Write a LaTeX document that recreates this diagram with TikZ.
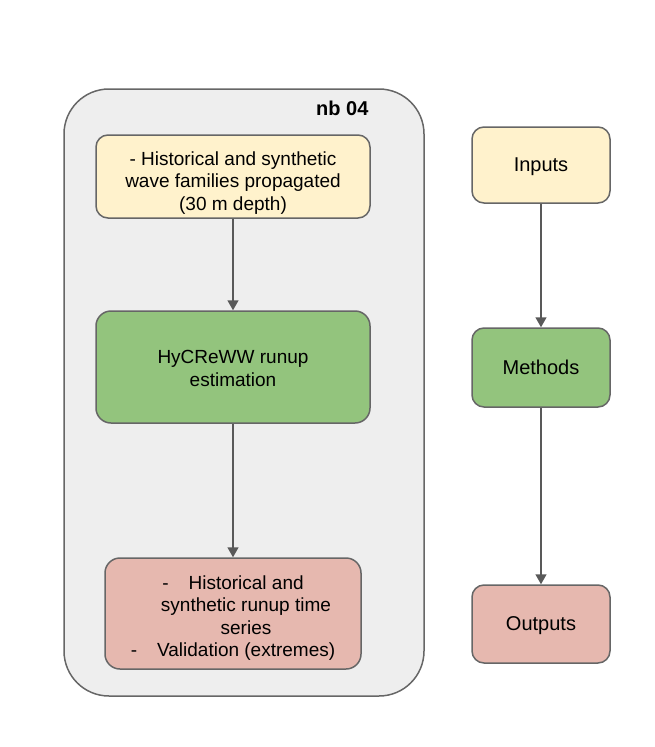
\documentclass[tikz,border=0pt]{standalone}
\usepackage{xcolor}
\usepackage{fontspec}
\setmainfont{Liberation Sans}
\usepackage{tikz}
\usetikzlibrary{arrows.meta}

\definecolor{groupgray}{HTML}{EEEEEE}
\definecolor{edgegray}{HTML}{666666}
\definecolor{arrowgray}{HTML}{595959}
\definecolor{inyellow}{HTML}{FFF2CC}
\definecolor{methgreen}{HTML}{93C47D}
\definecolor{outpink}{HTML}{E6B8AF}

\begin{document}
\begin{tikzpicture}[x=1pt,y=-1pt,
  box/.style={draw=edgegray, line width=1.5pt, rounded corners=12pt, inner sep=0pt,
    align=center, text depth=0pt, font=\fontsize{19}{22.5}\selectfont},
  flow/.style={-{Triangle[width=11pt,length=10pt]}, draw=arrowgray, line width=1.5pt}]
  \useasboundingbox (0,0) rectangle (654,747);

  % Notebook group
  \node[draw=edgegray, line width=1.5pt, fill=groupgray, rounded corners=45pt,
    minimum width=360pt, minimum height=607pt, inner sep=0pt] (nbgroup) at (244,392.5) {};
  \node[anchor=east, font=\fontsize{20}{24}\selectfont\bfseries] (nblabel) at (372,108) {nb 04};

  % Left column
  \node[box, fill=inyellow, minimum width=274pt, minimum height=83pt] (waves) at (233,176.5)
    {\rule{0pt}{22pt}- Historical and synthetic\\wave families propagated\\(30 m depth)};
  \node[box, fill=methgreen, minimum width=274pt, minimum height=112pt, rounded corners=15pt] (runup) at (233,367)
    {\rule{0pt}{16pt}HyCReWW runup\\estimation};
  \node[box, fill=outpink, minimum width=256pt, minimum height=111pt, rounded corners=15pt] (series) at (233,613.5)
    {\rule{0pt}{19pt}-\hspace{20pt}Historical and\\\hspace{26pt}synthetic runup time\\\hspace{26pt}series\\-\hspace{20pt}Validation (extremes)};

  \draw[flow] (waves) -- (runup);
  \draw[flow] (runup) -- (series);

  % Legend
  \node[box, fill=inyellow, minimum width=138pt, minimum height=76pt, font=\fontsize{20}{24}\selectfont] (inputs) at (541,165) {Inputs};
  \node[box, fill=methgreen, minimum width=138pt, minimum height=79pt, font=\fontsize{20}{24}\selectfont] (methods) at (541,367.5) {Methods};
  \node[box, fill=outpink, minimum width=138pt, minimum height=78pt, font=\fontsize{20}{24}\selectfont] (outputs) at (541,624) {Outputs};

  \draw[flow] (inputs) -- (methods);
  \draw[flow] (methods) -- (outputs);

\end{tikzpicture}
\end{document}
